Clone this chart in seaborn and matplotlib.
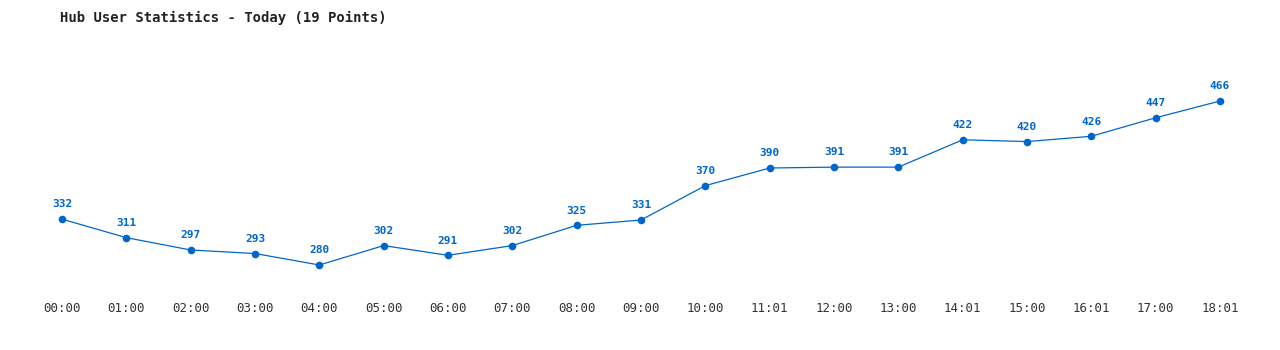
import matplotlib
matplotlib.use("Agg")
import matplotlib.pyplot as plt
import seaborn as sns
import pandas as pd

times = ["00:00", "01:00", "02:00", "03:00", "04:00", "05:00", "06:00", "07:00",
         "08:00", "09:00", "10:00", "11:01", "12:00", "13:00", "14:01", "15:00",
         "16:01", "17:00", "18:01"]
users = [332, 311, 297, 293, 280, 302, 291, 302, 325, 331, 370, 390, 391, 391,
         422, 420, 426, 447, 466]

sns.set_theme(style="white")
plt.rcParams['font.family'] = ['DejaVu Sans Mono', 'DejaVu Sans']

color = "#0066cc"
df = pd.DataFrame({"idx": range(len(times)), "users": users})

fig = plt.figure(figsize=(12.8, 3.5), dpi=100)
ax = fig.add_axes([62/1280, 1-285/350, (1220-62)/1280, 245/350])
sns.lineplot(data=df, x="idx", y="users", ax=ax, color=color, linewidth=0.9,
             marker="o", markersize=5.5, markeredgewidth=0, markerfacecolor=color)
for line in ax.lines:
    line.set_clip_on(False)
for i, v in enumerate(users):
    ax.annotate(str(v), (i, v), xytext=(0, 7), textcoords="offset points",
                ha="center", va="bottom", fontsize=8, fontweight="bold", color=color)

ax.set_xlim(0, len(times) - 1)
ax.set_ylim(257.3, 535.2)
ax.set_xticks(range(len(times)))
ax.set_xticklabels(times, fontsize=9, color="#333333")
ax.set_yticks([])
ax.set_xlabel("")
ax.set_ylabel("")
ax.tick_params(axis="x", length=0, pad=12)
for s in ax.spines.values():
    s.set_visible(False)
ax.patch.set_alpha(0)

fig.text(60/1280, 1-18/350, "Hub User Statistics - Today (19 Points)", fontsize=10,
         fontweight="bold", color="#222222", ha="left", va="center")

fig.savefig("out.png", dpi=100, facecolor="white")
